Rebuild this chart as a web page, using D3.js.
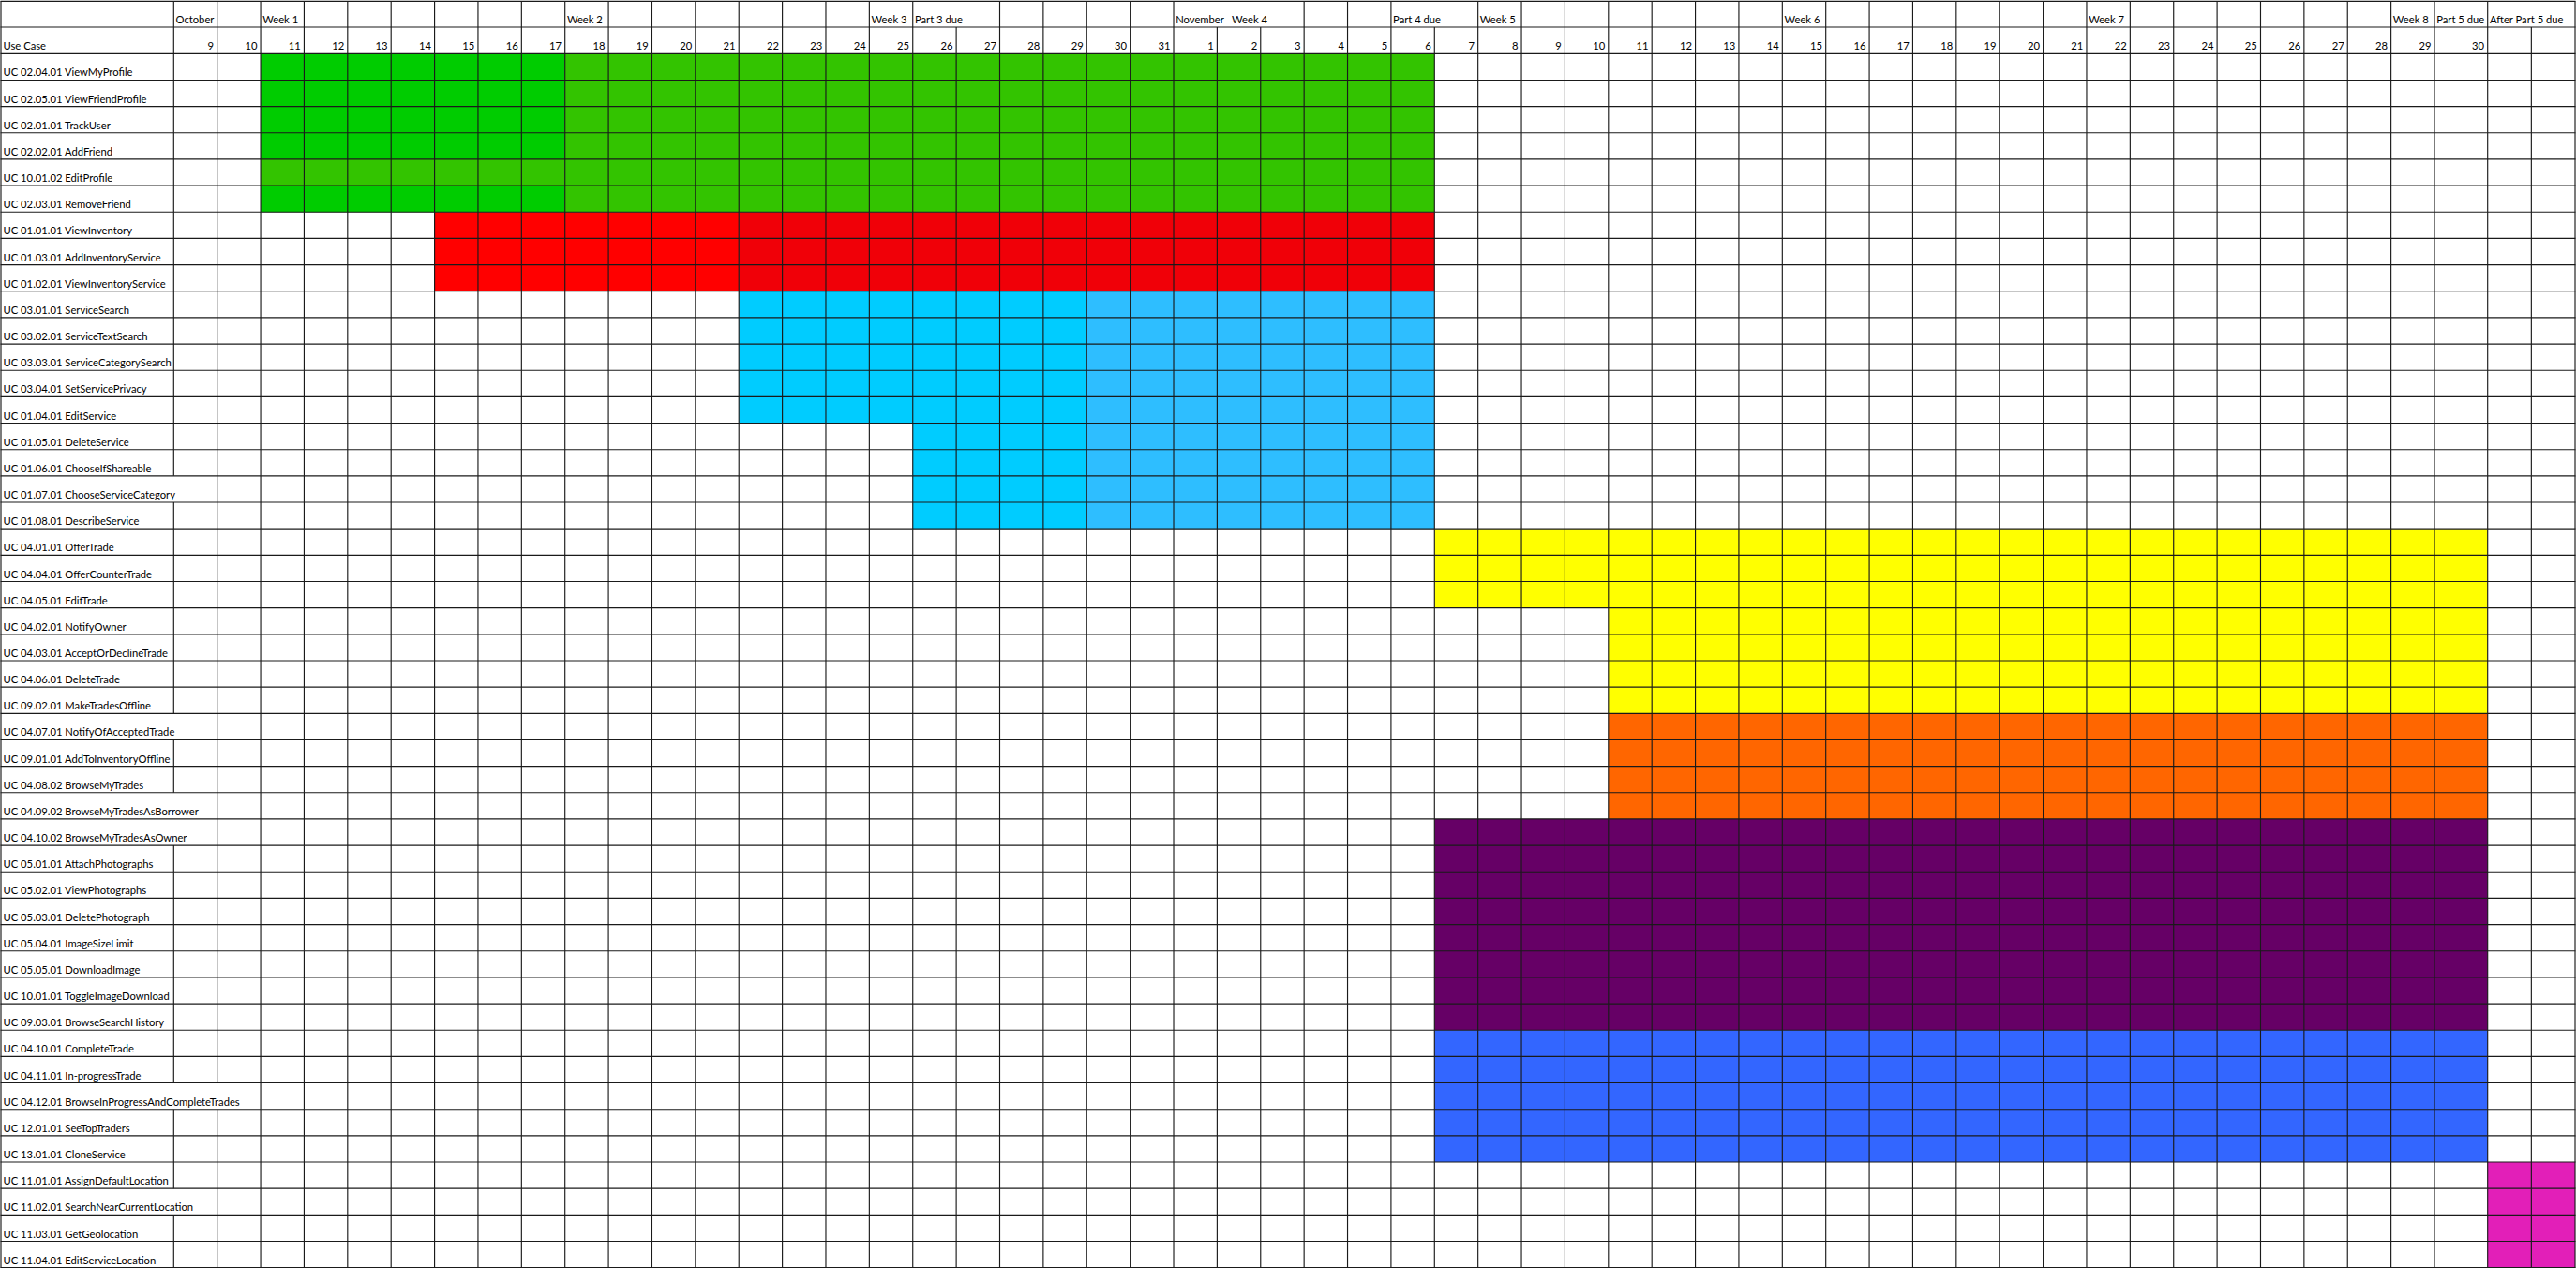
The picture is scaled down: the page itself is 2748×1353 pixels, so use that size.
<!DOCTYPE html>
<html>
<head>
<meta charset="utf-8">
<script src="https://cdn.jsdelivr.net/npm/d3@7"></script>
<style>
html,body{margin:0;padding:0;background:#fff;overflow:hidden}
text{white-space:pre}
</style>
</head>
<body>
<svg id="chart" width="2748" height="1353"></svg>
<script>
// ---------------- DATA ----------------
const useCases = [
  "UC 02.04.01 ViewMyProfile",
  "UC 02.05.01 ViewFriendProfile",
  "UC 02.01.01 TrackUser",
  "UC 02.02.01 AddFriend",
  "UC 10.01.02 EditProfile",
  "UC 02.03.01 RemoveFriend",
  "UC 01.01.01 ViewInventory",
  "UC 01.03.01 AddInventoryService",
  "UC 01.02.01 ViewInventoryService",
  "UC 03.01.01 ServiceSearch",
  "UC 03.02.01 ServiceTextSearch",
  "UC 03.03.01 ServiceCategorySearch",
  "UC 03.04.01 SetServicePrivacy",
  "UC 01.04.01 EditService",
  "UC 01.05.01 DeleteService",
  "UC 01.06.01 ChooseIfShareable",
  "UC 01.07.01 ChooseServiceCategory",
  "UC 01.08.01 DescribeService",
  "UC 04.01.01 OfferTrade",
  "UC 04.04.01 OfferCounterTrade",
  "UC 04.05.01 EditTrade",
  "UC 04.02.01 NotifyOwner",
  "UC 04.03.01 AcceptOrDeclineTrade",
  "UC 04.06.01 DeleteTrade",
  "UC 09.02.01 MakeTradesOffline",
  "UC 04.07.01 NotifyOfAcceptedTrade",
  "UC 09.01.01 AddToInventoryOffline",
  "UC 04.08.02 BrowseMyTrades",
  "UC 04.09.02 BrowseMyTradesAsBorrower",
  "UC 04.10.02 BrowseMyTradesAsOwner",
  "UC 05.01.01 AttachPhotographs",
  "UC 05.02.01 ViewPhotographs",
  "UC 05.03.01 DeletePhotograph",
  "UC 05.04.01 ImageSizeLimit",
  "UC 05.05.01 DownloadImage",
  "UC 10.01.01 ToggleImageDownload",
  "UC 09.03.01 BrowseSearchHistory",
  "UC 04.10.01 CompleteTrade",
  "UC 04.11.01 In-progressTrade",
  "UC 04.12.01 BrowseInProgressAndCompleteTrades",
  "UC 12.01.01 SeeTopTraders",
  "UC 13.01.01 CloneService",
  "UC 11.01.01 AssignDefaultLocation",
  "UC 11.02.01 SearchNearCurrentLocation",
  "UC 11.03.01 GetGeolocation",
  "UC 11.04.01 EditServiceLocation"
];

const octoberDays = [9,10,11,12,13,14,15,16,17,18,19,20,21,22,23,24,25,26,27,28,29,30,31];
const novemberDays = [1,2,3,4,5,6,7,8,9,10,11,12,13,14,15,16,17,18,19,20,21,22,23,24,25,26,27,28,29,30];
const afterColumns = ["After 1","After 2"];

const headerTitle = "Use Case";

const headerNotes = [
  {col:"Oct 9",  text:"October"},
  {col:"Oct 11", text:"Week 1"},
  {col:"Oct 18", text:"Week 2"},
  {col:"Oct 25", text:"Week 3"},
  {col:"Oct 26", text:"Part 3 due"},
  {col:"Nov 1",  text:"November   Week 4"},
  {col:"Nov 6",  text:"Part 4 due"},
  {col:"Nov 8",  text:"Week 5"},
  {col:"Nov 15", text:"Week 6"},
  {col:"Nov 22", text:"Week 7"},
  {col:"Nov 29", text:"Week 8"},
  {col:"Nov 30", text:"Part 5 due"},
  {col:"After 1", text:"After Part 5 due"}
];

// each block: first/last use case (inclusive), from/to day (inclusive), phase
const scheduleBlocks = [
  {first:"UC 02.04.01 ViewMyProfile",  last:"UC 02.02.01 AddFriend",   from:"Oct 11", to:"Oct 17", phase:"friends-week1"},
  {first:"UC 10.01.02 EditProfile",    last:"UC 10.01.02 EditProfile", from:"Oct 11", to:"Oct 17", phase:"friends-later"},
  {first:"UC 02.03.01 RemoveFriend",   last:"UC 02.03.01 RemoveFriend",from:"Oct 11", to:"Oct 17", phase:"friends-week1"},
  {first:"UC 02.04.01 ViewMyProfile",  last:"UC 02.03.01 RemoveFriend",from:"Oct 18", to:"Nov 6",  phase:"friends-later"},
  {first:"UC 01.01.01 ViewInventory",  last:"UC 01.02.01 ViewInventoryService", from:"Oct 15", to:"Oct 21", phase:"inventory-early"},
  {first:"UC 01.01.01 ViewInventory",  last:"UC 01.02.01 ViewInventoryService", from:"Oct 22", to:"Nov 6",  phase:"inventory-later"},
  {first:"UC 03.01.01 ServiceSearch",  last:"UC 01.04.01 EditService", from:"Oct 22", to:"Oct 29", phase:"services-early"},
  {first:"UC 03.01.01 ServiceSearch",  last:"UC 01.04.01 EditService", from:"Oct 30", to:"Nov 6",  phase:"services-later"},
  {first:"UC 01.05.01 DeleteService",  last:"UC 01.08.01 DescribeService", from:"Oct 26", to:"Oct 29", phase:"services-early"},
  {first:"UC 01.05.01 DeleteService",  last:"UC 01.08.01 DescribeService", from:"Oct 30", to:"Nov 6",  phase:"services-later"},
  {first:"UC 04.01.01 OfferTrade",     last:"UC 04.05.01 EditTrade",   from:"Nov 7",  to:"Nov 30", phase:"trades"},
  {first:"UC 04.02.01 NotifyOwner",    last:"UC 09.02.01 MakeTradesOffline", from:"Nov 11", to:"Nov 30", phase:"trades"},
  {first:"UC 04.07.01 NotifyOfAcceptedTrade", last:"UC 04.09.02 BrowseMyTradesAsBorrower", from:"Nov 11", to:"Nov 30", phase:"trade-browse"},
  {first:"UC 04.10.02 BrowseMyTradesAsOwner", last:"UC 09.03.01 BrowseSearchHistory", from:"Nov 7", to:"Nov 30", phase:"photos"},
  {first:"UC 04.10.01 CompleteTrade",  last:"UC 13.01.01 CloneService", from:"Nov 7", to:"Nov 30", phase:"completion"},
  {first:"UC 11.01.01 AssignDefaultLocation", last:"UC 11.04.01 EditServiceLocation", from:"After 1", to:"After 2", phase:"location"}
];

// ---------------- STYLE ----------------
const phaseColours = {
  "friends-week1":  "#00cc00",
  "friends-later":  "#33c400",
  "inventory-early":"#ff0000",
  "inventory-later":"#f00008",
  "services-early": "#00ccff",
  "services-later": "#2ebeff",
  "trades":         "#ffff00",
  "trade-browse":   "#ff6600",
  "photos":         "#660066",
  "completion":     "#3366ff",
  "location":       "#e21fb8"
};

// ---------------- LAYOUT ----------------
const svg = d3.select("#chart");
const W = 2748, H = 1353;
const leftEdge = 1, labelColRight = 185.3, rightEdge = 2747;
const topEdge = 1.3, header1Bottom = 29, header2Bottom = 57.3, rowH = 28.16;

const columnKeys = octoberDays.map(d => "Oct " + d)
  .concat(novemberDays.map(d => "Nov " + d))
  .concat(afterColumns);
const columnLabels = octoberDays.map(String).concat(novemberDays.map(String)).concat(afterColumns.map(() => ""));
const colIdx = new Map(columnKeys.map((k, i) => [k, i]));
const wideCol = colIdx.get("Nov 30");

// piecewise linear scale: column index -> left edge (Nov 30 column is wider)
const xEdge = d3.scaleLinear()
  .domain([0, wideCol, wideCol + 1, columnKeys.length])
  .range([labelColRight, 2597, 2653.7, rightEdge]);

const y = d3.scaleBand()
  .domain(useCases)
  .range([header2Bottom, header2Bottom + rowH * useCases.length])
  .paddingInner(0).paddingOuter(0);

svg.append("rect").attr("width", W).attr("height", H).attr("fill", "#fff");

// font sizing: fit the reference text width
const fontFamily = "Lato, 'Open Sans', sans-serif";
const probe = svg.append("text").attr("font-family", fontFamily).attr("font-size", 100)
  .text("UC 02.04.01 ViewMyProfile");
const fontSize = 100 * 138 / probe.node().getComputedTextLength();
probe.remove();

// blocks
svg.append("g").selectAll("rect").data(scheduleBlocks).join("rect")
  .attr("x", d => xEdge(colIdx.get(d.from)))
  .attr("width", d => xEdge(colIdx.get(d.to) + 1) - xEdge(colIdx.get(d.from)))
  .attr("y", d => y(d.first))
  .attr("height", d => y(d.last) + y.bandwidth() - y(d.first))
  .attr("fill", d => phaseColours[d.phase]);

// texts
const tg = svg.append("g").attr("font-family", fontFamily).attr("font-size", fontSize).attr("fill", "#000");
const notes = tg.append("g").selectAll("text").data(headerNotes).join("text")
  .attr("x", d => xEdge(colIdx.get(d.col)) + 2.2)
  .attr("y", header1Bottom - 3.8)
  .text(d => d.text);

tg.append("text").attr("x", leftEdge + 2.5).attr("y", header2Bottom - 4).text(headerTitle);

tg.append("g").selectAll("text").data(columnKeys).join("text")
  .attr("x", (d, i) => xEdge(i + 1) - 3.6)
  .attr("y", header2Bottom - 4)
  .attr("text-anchor", "end")
  .text((d, i) => columnLabels[i]);

const labels = tg.append("g").selectAll("text").data(useCases).join("text")
  .attr("x", leftEdge + 2.5)
  .attr("y", d => y(d) + y.bandwidth() - 4)
  .text(d => d);

// grid
const grid = svg.insert("g", "g:last-of-type").attr("stroke", "#1a1a1a").attr("stroke-width", 1.15).attr("fill", "none");
// horizontal
const hLines = [topEdge, header1Bottom, header2Bottom].concat(useCases.map(u => y(u) + y.bandwidth()));
grid.selectAll("line.h").data(hLines).join("line").attr("class", "h")
  .attr("x1", leftEdge - 0.5).attr("x2", rightEdge + 0.5)
  .attr("y1", d => d).attr("y2", d => d);

// vertical boundaries per row, hidden where text overflows into empty neighbour cells
const boundaries = [leftEdge, labelColRight].concat(columnKeys.map((k, i) => xEdge(i + 1)));
const rowsSpec = [{top: topEdge, bottom: header1Bottom, spans: []},
                  {top: header1Bottom, bottom: header2Bottom, spans: []}];
const noteCols = new Set(headerNotes.map(n => colIdx.get(n.col)));
notes.each(function (d) {
  const start = xEdge(colIdx.get(d.col)) + 2.2;
  const end = start + this.getComputedTextLength();
  // Excel clips at the next non-empty cell
  let limit = rightEdge;
  for (let c = colIdx.get(d.col) + 1; c < columnKeys.length; c++) {
    if (noteCols.has(c)) { limit = xEdge(c); break; }
  }
  rowsSpec[0].spans.push([xEdge(colIdx.get(d.col)), Math.min(end, limit)]);
});
labels.each(function (d) {
  const start = leftEdge + 2.5;
  rowsSpec.push({top: y(d), bottom: y(d) + y.bandwidth(), spans: [[leftEdge, start + this.getComputedTextLength()]]});
});
const vSegs = [];
rowsSpec.forEach(r => {
  boundaries.forEach(b => {
    const hidden = r.spans.some(([s, e]) => b > s + 0.5 && b < e + 1);
    if (!hidden) vSegs.push({x: b, y1: r.top, y2: r.bottom});
  });
});
grid.selectAll("line.v").data(vSegs).join("line").attr("class", "v")
  .attr("x1", d => d.x).attr("x2", d => d.x)
  .attr("y1", d => d.y1).attr("y2", d => d.y2);
</script>
</body>
</html>
